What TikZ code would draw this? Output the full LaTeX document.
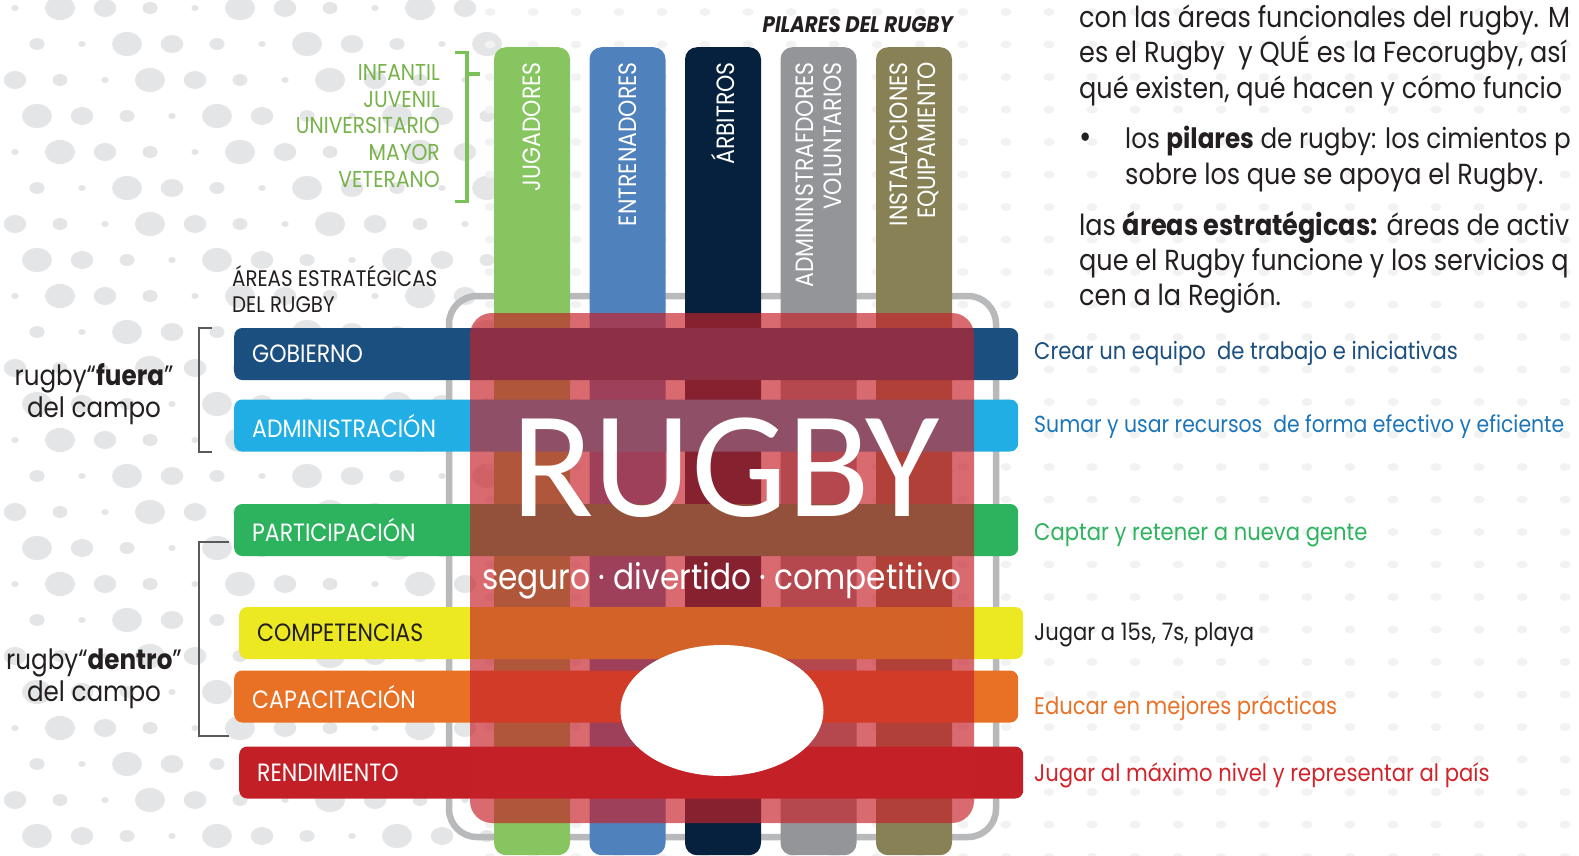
\documentclass[tikz,border=0pt]{standalone}
\usepackage{fontspec}
\setmainfont{Poppins}[FakeStretch=0.88]
\newfontfamily\rugbyfont{Carlito}
\usetikzlibrary{positioning, shapes.geometric}
\definecolor{JugGreen}{HTML}{86C55F}
\definecolor{EntBlue}{HTML}{4F81BD}
\definecolor{ArbNavy}{HTML}{06213D}
\definecolor{AdmGray}{HTML}{939598}
\definecolor{InsOlive}{HTML}{878155}
\definecolor{GobBlue}{HTML}{1B4F80}
\definecolor{AdmCyan}{HTML}{20AEE5}
\definecolor{PartGreen}{HTML}{2DB35E}
\definecolor{CompYellow}{HTML}{ECE822}
\definecolor{CapOrange}{HTML}{E87126}
\definecolor{RendRed}{HTML}{C21F26}
\definecolor{RugbyRed}{HTML}{C6212A}
\definecolor{FrameGray}{HTML}{B8B9BB}
\definecolor{ListGreen}{HTML}{77B24B}
\definecolor{BracketGreen}{HTML}{7AC15A}
\definecolor{BracketGray}{HTML}{58595B}
\definecolor{SumarBlue}{HTML}{1B75BB}
\definecolor{JugarRed}{HTML}{D2232A}
\definecolor{Charcoal}{HTML}{231F20}
\definecolor{DotGray}{HTML}{E4E5E6}
\definecolor{DotLight}{HTML}{F2F2F3}
\newcommand{\fsize}[2]{\fontsize{#1}{#2}\selectfont}

\begin{document}
\begin{tikzpicture}[x=1pt, y=-1pt,
    pillar/.style={rounded corners=12pt, minimum width=76pt, minimum height=808pt,
                   anchor=north, inner sep=0pt},
    pillarlabel/.style={rotate=90, anchor=east, text=white, align=right,
                        inner sep=0pt, font=\fsize{25}{28}},
    areabar/.style={anchor=west, rounded corners=8pt, minimum width=784pt,
                    minimum height=52pt, text width=748pt, inner xsep=18pt,
                    inner ysep=0pt, align=left, text=white, font=\fsize{25}{25}},
    desc/.style={anchor=west, inner sep=0pt, font=\fsize{24}{24}},
    para/.style={anchor=base west, inner sep=0pt, text=Charcoal, font=\fsize{29}{29}}]
    \useasboundingbox (0,0) rectangle (1579,856);
    \clip (0,0) rectangle (1579,856);

    % Background dots
    \foreach \i in {0,...,10} {
        \foreach \j in {0,...,23} {
            \pgfmathsetmacro{\r}{3+3*mod(\i*7+\j*5,4)}
            \fill[DotGray] ({15+45*\i+22*mod(\j,2)}, {8+36*\j}) ellipse ({1.25*\r} and \r);
        }
    }
    \foreach \i in {0,...,25} {
        \foreach \j in {0,...,26} {
            \fill[DotLight] ({490+43*\i}, {12+32.5*\j}) ellipse (5.5 and 4);
        }
    }

    % Field frame
    \draw[FrameGray, line width=6.5pt, rounded corners=28pt] (449,296) rectangle (996,837);

    % Pillars
    \node[pillar, fill=JugGreen] (jugadores) at (532,47) {};
    \node[pillar, fill=EntBlue] (entrenadores) at (627.5,47) {};
    \node[pillar, fill=ArbNavy] (arbitros) at (723,47) {};
    \node[pillar, fill=AdmGray] (voluntarios) at (818.5,47) {};
    \node[pillar, fill=InsOlive] (instalaciones) at (914,47) {};

    \node[pillarlabel] (ljugadores) at ([yshift=-15pt]jugadores.north) {JUGADORES};
    \node[pillarlabel] (lentrenadores) at ([yshift=-15pt]entrenadores.north) {ENTRENADORES};
    \node[pillarlabel] (larbitros) at ([yshift=-15pt]arbitros.north) {ÁRBITROS};
    \node[pillarlabel] (lvoluntarios) at ([yshift=-15pt]voluntarios.north) {ADMININSTRAFDORES\\VOLUNTARIOS};
    \node[pillarlabel] (linstalaciones) at ([yshift=-15pt]instalaciones.north) {INSTALACIONES\\EQUIPAMIENTO};

    \node[anchor=east, inner sep=0pt, text=Charcoal, font=\fsize{22.5}{22.5}\bfseries\itshape] (pilares) at (953,25) {PILARES DEL RUGBY};

    % Player categories
    \node[anchor=east, align=right, inner sep=0pt, text=ListGreen, font=\fsize{23}{26.6}] (categorias) at (440,126) {INFANTIL\\JUVENIL\\UNIVERSITARIO\\MAYOR\\VETERANO};
    \coordinate (gtop) at (467,52.5);
    \coordinate (gbot) at (467,201.5);
    \coordinate (gmid) at (467,74);
    \coordinate (gtip) at (480,74);
    \draw[BracketGreen, line width=3.5pt] ([xshift=-12pt]gtop) -- (gtop) -- (gbot) -- ([xshift=-12pt]gbot);
    \draw[BracketGreen, line width=3.5pt] (gmid) -- (gtip);

    % Strategic areas
    \node[anchor=north west, align=left, inner sep=0pt, text=Charcoal, font=\fsize{22.5}{26.5}] (areashdr) at (232,265) {ÁREAS ESTRATÉGICAS\\DEL RUGBY};

    \node[areabar, fill=GobBlue] (gobierno) at (234,354) {GOBIERNO};
    \node[areabar, fill=AdmCyan] (administracion) at (234,425.5) {ADMINISTRACIÓN};
    \node[areabar, fill=PartGreen] (participacion) at (234,530) {PARTICIPACIÓN};
    \node[areabar, fill=CompYellow, text=Charcoal] (competencias) at (239,633) {COMPETENCIAS};
    \node[areabar, fill=CapOrange] (capacitacion) at (234,696.5) {CAPACITACIÓN};
    \node[areabar, fill=RendRed] (rendimiento) at (239,772.5) {RENDIMIENTO};

    % Rugby field
    \fill[RugbyRed, opacity=0.67, rounded corners=22pt] (470,313) rectangle (974,823);
    \node[ellipse, fill=white, minimum width=203pt, minimum height=131pt, inner sep=0pt] (balon) at (722,710.5) {};
    \node[inner sep=0pt, text=white, font=\rugbyfont\fsize{152}{152}] (rugby) at (725.5,467.5) {RUGBY};
    \node[inner sep=0pt, text=white, font=\fsize{35.5}{35.5}] (lema) at (722,581) {seguro · divertido · competitivo};

    % Off / on the field
    \draw[BracketGray, line width=1.2pt] (212,328) -- (199,328) -- (199,452) -- (212,452);
    \draw[BracketGray, line width=1.2pt] (229,542) -- (199,542) -- (199,736) -- (229,736);
    \node[align=center, inner sep=0pt, text=Charcoal, font=\fsize{28}{32}] (fuera) at (94,394) {rugby“\textbf{fuera}”\\del campo};
    \node[align=center, inner sep=0pt, text=Charcoal, font=\fsize{28}{32}] (dentro) at (94,679) {rugby“\textbf{dentro}”\\del campo};

    % Descriptions
    \node[desc, text=GobBlue] (dgobierno) at (1034,353.5) {Crear un equipo\ \ de trabajo e iniciativas};
    \node[desc, text=SumarBlue, font=\fsize{23.2}{24}] (dadministracion) at (1034,427) {Sumar y usar recursos\ \ de forma efectivo y eficiente};
    \node[desc, text=PartGreen] (dparticipacion) at (1034,535.5) {Captar y retener a nueva gente};
    \node[desc, text=Charcoal] (dcompetencias) at (1034,634.5) {Jugar a 15s, 7s, playa};
    \node[desc, text=CapOrange] (dcapacitacion) at (1034,708) {Educar en mejores prácticas};
    \node[desc, text=JugarRed] (drendimiento) at (1034,775.5) {Jugar al máximo nivel y representar al país};

    % Paragraph, top right
    \node[para] (p1) at (1079,28) {con las áreas funcionales del rugby. M};
    \node[para] (p2) at (1079,63) {es el Rugby\ \ y QUÉ es la Fecorugby, así};
    \node[para] (p3) at (1079,99) {qué existen, qué hacen y cómo funcio};
    \node[para, anchor=base, font=\fsize{34}{34}] (bala) at (1086,149) {•};
    \node[para, font=\fsize{28}{28}] (p4) at (1125,149) {los \textbf{pilares} de rugby: los cimientos p};
    \node[para] (p5) at (1125,184) {sobre los que se apoya el Rugby.};
    \node[para] (p6) at (1079,235) {las \textbf{áreas estratégicas:} áreas de activ};
    \node[para] (p7) at (1079,270) {que el Rugby funcione y los servicios q};
    \node[para] (p8) at (1079,305) {cen a la Región.};
\end{tikzpicture}
\end{document}
